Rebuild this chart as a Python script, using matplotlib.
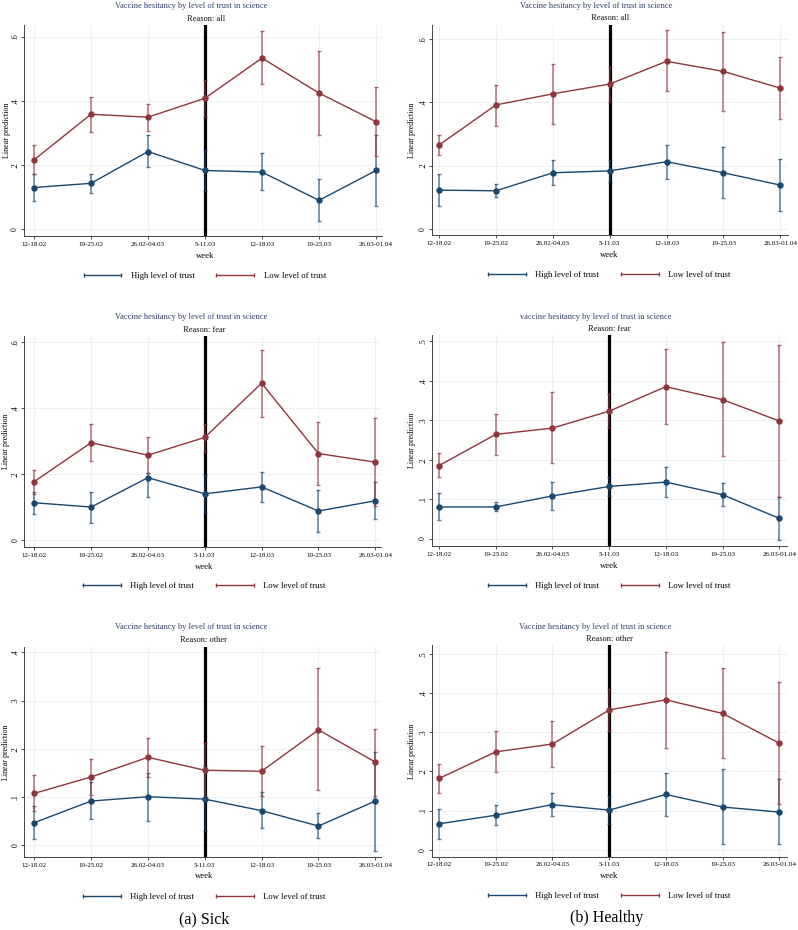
import matplotlib
matplotlib.use("Agg")
import matplotlib.pyplot as plt
from matplotlib.lines import Line2D
from matplotlib.ticker import FuncFormatter

plt.rcParams['font.family'] = ['Liberation Serif', 'DejaVu Serif']

weeks = ["12-18.02", "19-25.02", "26.02-04.03", "5-11.03", "12-18.03", "19-25.03", "26.03-01.04"]
series_labels = ["High level of trust", "Low level of trust"]

# Sick, reason: all
sick_all_high = [0.130, 0.143, 0.242, 0.183, 0.178, 0.090, 0.183]
sick_all_high_lo = [0.087, 0.112, 0.193, 0.119, 0.121, 0.025, 0.072]
sick_all_high_hi = [0.171, 0.173, 0.293, 0.246, 0.236, 0.157, 0.294]
sick_all_low = [0.216, 0.358, 0.349, 0.408, 0.533, 0.424, 0.335]
sick_all_low_lo = [0.171, 0.303, 0.305, 0.351, 0.451, 0.293, 0.227]
sick_all_low_hi = [0.261, 0.413, 0.391, 0.464, 0.617, 0.556, 0.443]

# Healthy, reason: all
healthy_all_high = [0.122, 0.120, 0.177, 0.183, 0.212, 0.177, 0.138]
healthy_all_high_lo = [0.073, 0.099, 0.138, 0.147, 0.158, 0.096, 0.055]
healthy_all_high_hi = [0.172, 0.143, 0.218, 0.219, 0.265, 0.259, 0.220]
healthy_all_low = [0.265, 0.392, 0.427, 0.458, 0.530, 0.498, 0.445]
healthy_all_low_lo = [0.232, 0.326, 0.331, 0.401, 0.435, 0.372, 0.347]
healthy_all_low_hi = [0.297, 0.456, 0.521, 0.513, 0.628, 0.624, 0.543]

# Sick, reason: fear
sick_fear_high = [0.114, 0.101, 0.190, 0.141, 0.162, 0.089, 0.120]
sick_fear_high_lo = [0.081, 0.054, 0.131, 0.084, 0.116, 0.026, 0.066]
sick_fear_high_hi = [0.147, 0.148, 0.203, 0.198, 0.208, 0.152, 0.176]
sick_fear_low = [0.178, 0.296, 0.258, 0.312, 0.476, 0.263, 0.237]
sick_fear_low_lo = [0.140, 0.239, 0.203, 0.269, 0.373, 0.169, 0.104]
sick_fear_low_hi = [0.212, 0.352, 0.312, 0.352, 0.576, 0.358, 0.370]

# Healthy, reason: fear
healthy_fear_high = [0.080, 0.080, 0.108, 0.132, 0.143, 0.111, 0.051]
healthy_fear_high_lo = [0.047, 0.070, 0.073, 0.107, 0.104, 0.082, -0.003]
healthy_fear_high_hi = [0.115, 0.093, 0.143, 0.156, 0.182, 0.140, 0.106]
healthy_fear_low = [0.185, 0.264, 0.280, 0.323, 0.385, 0.352, 0.298]
healthy_fear_low_lo = [0.155, 0.213, 0.191, 0.280, 0.290, 0.209, 0.105]
healthy_fear_low_hi = [0.216, 0.315, 0.371, 0.367, 0.481, 0.497, 0.490]

# Sick, reason: other
sick_other_high = [0.046, 0.091, 0.100, 0.095, 0.071, 0.039, 0.091]
sick_other_high_lo = [0.012, 0.053, 0.049, 0.028, 0.034, 0.014, -0.012]
sick_other_high_hi = [0.081, 0.130, 0.150, 0.163, 0.109, 0.066, 0.194]
sick_other_low = [0.107, 0.141, 0.182, 0.155, 0.153, 0.239, 0.172]
sick_other_low_lo = [0.071, 0.103, 0.142, 0.098, 0.102, 0.113, 0.102]
sick_other_low_hi = [0.145, 0.179, 0.222, 0.212, 0.205, 0.367, 0.241]

# Healthy, reason: other
healthy_other_high = [0.066, 0.088, 0.115, 0.101, 0.141, 0.109, 0.096]
healthy_other_high_lo = [0.026, 0.062, 0.085, 0.066, 0.087, 0.014, 0.014]
healthy_other_high_hi = [0.105, 0.113, 0.146, 0.137, 0.195, 0.205, 0.180]
healthy_other_low = [0.182, 0.250, 0.270, 0.357, 0.383, 0.348, 0.272]
healthy_other_low_lo = [0.145, 0.199, 0.212, 0.302, 0.260, 0.233, 0.116]
healthy_other_low_hi = [0.219, 0.302, 0.328, 0.410, 0.506, 0.464, 0.428]

W, H = 798, 930
BLUE = '#1a476f'
RED = '#90353b'
TITLE_C = '#2e3d66'

fig = plt.figure(figsize=(W / 100, H / 100), dpi=100)


def rect(l, t, r, b):
    return [l / W, 1 - b / H, (r - l) / W, (b - t) / H]


def fmt(v, pos):
    if abs(v) < 1e-9:
        return "0"
    return ("%.1f" % v).lstrip("0")


panels = [
    dict(r=(23.7, 25, 381.7, 236), xl=(-0.18, 6.1), yl=(-0.021, 0.636), yt=[0, .2, .4, .6],
         title="Vaccine hesitancy by level of trust in science", sub="Reason: all", ylx=7,
         tx=191, ty=6, sx=206, sy=19, wx=204.7, wy=256, lx=203.5, ly=276,
         d=(sick_all_high, sick_all_high_lo, sick_all_high_hi, sick_all_low, sick_all_low_lo, sick_all_low_hi)),
    dict(r=(431.7, 25, 787.7, 235.3), xl=(-0.13, 6.13), yl=(-0.021, 0.645), yt=[0, .2, .4, .6],
         title="Vaccine hesitancy by level of trust in science", sub="Reason: all", ylx=411.5,
         tx=596, ty=6, sx=610, sy=18.3, wx=609.3, wy=255.3, lx=608, ly=275.3,
         d=(healthy_all_high, healthy_all_high_lo, healthy_all_high_hi, healthy_all_low, healthy_all_low_lo, healthy_all_low_hi)),
    dict(r=(24, 336, 381, 547), xl=(-0.18, 6.1), yl=(-0.02, 0.619), yt=[0, .2, .4, .6],
         title="Vaccine hesitancy by level of trust in science", sub="Reason: fear", ylx=6.5,
         tx=190.7, ty=317.3, sx=204, sy=330, wx=204.3, wy=566.7, lx=203, ly=586,
         d=(sick_fear_high, sick_fear_high_lo, sick_fear_high_hi, sick_fear_low, sick_fear_low_lo, sick_fear_low_hi)),
    dict(r=(431.7, 335, 786.7, 546), xl=(-0.13, 6.13), yl=(-0.019, 0.516), yt=[0, .1, .2, .3, .4, .5],
         title="vaccine hesitancy by level of trust in science", sub="Reason: fear", ylx=411.5,
         tx=595.3, ty=316.7, sx=609, sy=329.3, wx=609, wy=565.7, lx=608, ly=586,
         d=(healthy_fear_high, healthy_fear_high_lo, healthy_fear_high_hi, healthy_fear_low, healthy_fear_low_lo, healthy_fear_low_hi)),
    dict(r=(24, 646.7, 381, 857.3), xl=(-0.18, 6.1), yl=(-0.026, 0.412), yt=[0, .1, .2, .3, .4],
         title="Vaccine hesitancy by level of trust in science", sub="Reason: other", ylx=6.5,
         tx=190.7, ty=627.3, sx=204, sy=640, wx=204.3, wy=876, lx=203, ly=896.7,
         d=(sick_other_high, sick_other_high_lo, sick_other_high_hi, sick_other_low, sick_other_low_lo, sick_other_low_hi)),
    dict(r=(431.7, 645, 786.7, 856.7), xl=(-0.13, 6.13), yl=(-0.018, 0.523), yt=[0, .1, .2, .3, .4, .5],
         title="Vaccine hesitancy by level of trust in science", sub="Reason: other", ylx=411.5,
         tx=595.3, ty=626.7, sx=609, sy=639, wx=609, wy=876, lx=608, ly=895.7,
         d=(healthy_other_high, healthy_other_high_lo, healthy_other_high_hi, healthy_other_low, healthy_other_low_lo, healthy_other_low_hi)),
]

x = list(range(len(weeks)))

for p in panels:
    ax = fig.add_axes(rect(*p['r']))
    hm, hlo, hhi, lm, llo, lhi = p['d']
    ax.axvline(3, color='black', lw=2.3, zorder=1.5)
    for m, lo, hi, c in ((hm, hlo, hhi, BLUE), (lm, llo, lhi, RED)):
        yerr = [[mm - l for mm, l in zip(m, lo)], [h - mm for mm, h in zip(m, hi)]]
        ax.errorbar(x, m, yerr=yerr, fmt='none', ecolor=c, elinewidth=1.1,
                    capsize=1.7, capthick=1.0, alpha=0.7, zorder=2)
        ax.plot(x, m, color=c, lw=1.0, marker='o', markersize=3.6, zorder=3)
    ax.set_xlim(*p['xl'])
    ax.set_ylim(*p['yl'])
    ax.set_xticks(x)
    ax.set_xticklabels(weeks, fontsize=5)
    ax.set_yticks(p['yt'])
    ax.yaxis.set_major_formatter(FuncFormatter(fmt))
    for lab in ax.get_yticklabels():
        lab.set_rotation(90)
        lab.set_va('center')
        lab.set_fontsize(5.5)
    ax.tick_params(axis='x', length=2.5, width=0.6, color='#333333', pad=1.5)
    ax.tick_params(axis='y', length=2.5, width=0.6, color='#333333', pad=0.8)
    ax.grid(True, color='#e6eff1', lw=0.6, zorder=0)
    ax.set_axisbelow(True)
    for s in ('top', 'right'):
        ax.spines[s].set_visible(False)
    for s in ('left', 'bottom'):
        ax.spines[s].set_color('#444444')
        ax.spines[s].set_linewidth(0.7)
    ax.set_ylabel("Linear prediction", fontsize=5.8)
    ax.yaxis.label.set_va('center')
    l, t, r_, b = p['r']
    ax.yaxis.set_label_coords((p['ylx'] - l) / (r_ - l), 0.5)
    fig.text(p['tx'] / W, 1 - p['ty'] / H, p['title'], fontsize=6, color=TITLE_C, ha='center', va='center')
    fig.text(p['sx'] / W, 1 - p['sy'] / H, p['sub'], fontsize=6, color='#111111', ha='center', va='center')
    fig.text(p['wx'] / W, 1 - p['wy'] / H, "week", fontsize=6.2, ha='center', va='center')
    handles = [Line2D([], [], color=BLUE, lw=1.0, marker='|', markersize=3.5, markeredgewidth=0.9),
               Line2D([], [], color=RED, lw=1.0, marker='|', markersize=3.5, markeredgewidth=0.9)]
    fig.legend(handles, series_labels, loc='center', bbox_to_anchor=(p['lx'] / W, 1 - p['ly'] / H),
               ncol=2, frameon=False, fontsize=6.2, numpoints=2, handlelength=5,
               handletextpad=0.8, columnspacing=2.2, borderaxespad=0, borderpad=0)

fig.text(203.7 / W, 1 - 919 / H, "(a) Sick", fontsize=11.5, ha='center', va='center')
fig.text(606.7 / W, 1 - 918.3 / H, "(b) Healthy", fontsize=11.5, ha='center', va='center')

fig.savefig("out.png", dpi=100, facecolor='white')
